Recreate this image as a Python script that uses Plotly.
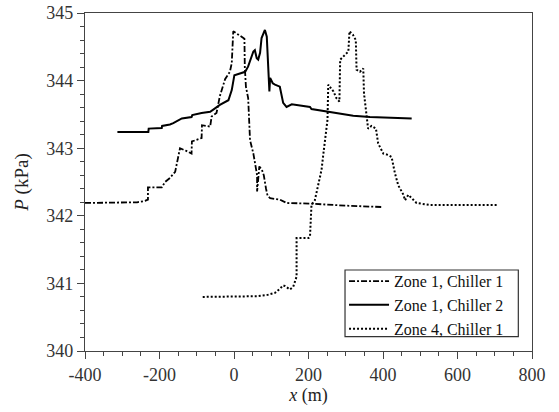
import plotly.graph_objects as go

# Zone 1, Chiller 1 (dash-dot)
x_z1c1 = [-400, -300, -260, -239, -231, -231, -194, -185, -172, -158, -145, -128, -114, -113,
          -87, -86, -64, -60, -47, -38, -24, -11, -6, -2, 12, 28, 29, 32, 38, 43, 52, 58,
          62, 62, 65, 68, 75, 80, 86, 90, 97, 123, 141, 204, 300, 396]
y_z1c1 = [342.19, 342.19, 342.20, 342.22, 342.24, 342.42, 342.42, 342.50, 342.56, 342.65, 343.00,
          342.96, 342.92, 343.10, 343.15, 343.34, 343.32, 343.47, 343.52, 343.77, 344.02, 344.13,
          344.26, 344.73, 344.68, 344.62, 344.20, 343.91, 343.74, 343.12, 342.92, 342.70,
          342.60, 342.36, 342.50, 342.73, 342.68, 342.60, 342.40, 342.30, 342.26, 342.24, 342.19,
          342.18, 342.15, 342.13]

# Zone 1, Chiller 2 (solid)
x_z1c2 = [-313, -230, -229, -194, -193, -172, -163, -145, -140, -114, -112, -87, -64, -51, -38,
          -15, -6, 1, 30, 38, 52, 56, 61, 65, 70, 74, 83, 88, 92, 95, 97, 104, 110, 123, 132,
          141, 155, 168, 204, 208, 249, 285, 320, 365, 419, 477]
y_z1c2 = [343.24, 343.24, 343.29, 343.30, 343.33, 343.35, 343.37, 343.43, 343.44, 343.46, 343.49,
          343.52, 343.54, 343.59, 343.64, 343.71, 343.86, 344.08, 344.13, 344.21, 344.43, 344.45,
          344.33, 344.31, 344.41, 344.63, 344.75, 344.65, 344.04, 343.84, 344.04, 343.96, 343.94,
          343.91, 343.67, 343.61, 343.65, 343.64, 343.61, 343.58, 343.54, 343.51, 343.48, 343.46,
          343.45, 343.44]

# Zone 4, Chiller 1 (dotted)
x_z4c1 = [-84, 0, 61, 90, 110, 123, 132, 137, 145, 150, 159, 164, 168, 168, 200, 204, 208, 217,
          226, 235, 240, 247, 251, 253, 267, 275, 283, 285, 298, 307, 310, 319, 327, 329, 338,
          347, 349, 356, 360, 369, 381, 387, 401, 414, 423, 432, 441, 455, 459, 468, 476, 490,
          526, 600, 705]
y_z4c1 = [340.80, 340.80, 340.81, 340.83, 340.86, 340.92, 340.97, 340.96, 340.93, 340.91, 340.95,
          341.05, 341.10, 341.67, 341.67, 341.69, 342.16, 342.23, 342.48, 342.68, 342.92, 343.22,
          343.42, 343.94, 343.84, 343.74, 343.69, 344.31, 344.38, 344.43, 344.73, 344.68, 344.60,
          344.16, 344.13, 344.18, 343.81, 343.49, 343.29, 343.33, 343.29, 343.07, 342.92, 342.90,
          342.87, 342.63, 342.45, 342.31, 342.23, 342.31, 342.27, 342.19, 342.16, 342.16, 342.16]

x_ticks = [-400, -200, 0, 200, 400, 600, 800]
y_ticks = [340, 341, 342, 343, 344, 345]

FONT = "Liberation Serif, serif"

fig = go.Figure()
fig.add_trace(go.Scatter(x=x_z1c1, y=y_z1c1, mode="lines", name="Zone 1, Chiller 1",
                         line=dict(color="black", width=1.8, dash="6px,2px,2px,2px")))
fig.add_trace(go.Scatter(x=x_z1c2, y=y_z1c2, mode="lines", name="Zone 1, Chiller 2",
                         line=dict(color="black", width=2)))
fig.add_trace(go.Scatter(x=x_z4c1, y=y_z4c1, mode="lines", name="Zone 4, Chiller 1",
                         line=dict(color="black", width=2, dash="2px,2px")))

axis_common = dict(showline=True, linecolor="#444", linewidth=1.3, mirror=True,
                   ticks="outside", ticklen=7, tickwidth=1.3, tickcolor="#444",
                   showgrid=False, zeroline=False, automargin=False,
                   tickfont=dict(family=FONT, size=18, color="#333"))

fig.update_xaxes(range=[-400, 800], tickvals=x_ticks, ticktext=[str(v) for v in x_ticks],
                 minor=dict(dtick=50, ticks="outside", ticklen=4, tickcolor="#444", tickwidth=1.3),
                 title=dict(text="<i>x</i> (m)", font=dict(family=FONT, size=18, color="#222"), standoff=0),
                 **axis_common)
fig.update_yaxes(range=[340, 345], tickvals=y_ticks, ticktext=[str(v) for v in y_ticks],
                 minor=dict(dtick=0.2, ticks="outside", ticklen=4, tickcolor="#444", tickwidth=1.3),
                 title=dict(text="<i>P</i> (kPa)", font=dict(family=FONT, size=19, color="#222"), standoff=12),
                 **axis_common)

# legend frame drawn as a shape (paper coordinates relative to the plot area)
fig.add_shape(type="rect", xref="paper", yref="paper",
              x0=0.5817, x1=0.9694, y0=0.0423, y1=0.2396,
              line=dict(color="#333", width=1.2), fillcolor="white", layer="below")

fig.update_layout(
    template="none",
    width=559, height=412,
    margin=dict(l=85, r=27, t=13, b=61, autoexpand=False),
    plot_bgcolor="white", paper_bgcolor="white",
    font=dict(family=FONT),
    showlegend=True,
    legend=dict(x=0.5795, y=0.257, xanchor="left", yanchor="top",
                borderwidth=0, bgcolor="rgba(0,0,0,0)",
                font=dict(family=FONT, size=16, color="#111"),
                itemwidth=40, tracegroupgap=0),
)

fig.write_html("out.html", config={"displayModeBar": False},
               post_script="document.body.style.margin='0px';")
